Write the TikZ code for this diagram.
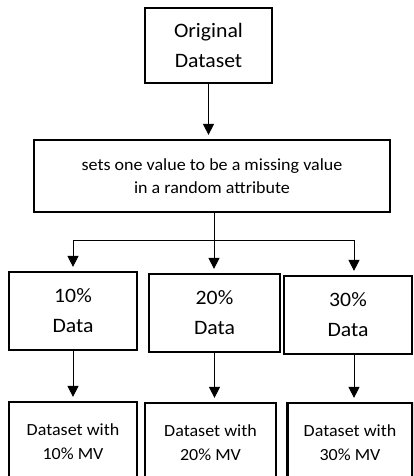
\documentclass[tikz,border=0pt]{standalone}
\usepackage{fontspec}
\setmainfont[FakeStretch=1.06]{Carlito}
\usetikzlibrary{arrows.meta, positioning}

\begin{document}
\begin{tikzpicture}[x=1pt, y=-1pt,
    box/.style={rectangle, draw, line width=2.2pt, inner sep=0pt, align=center},
    big/.style={box, minimum height=78pt, font=\fontsize{20.5}{30}\selectfont},
    mv/.style={box, minimum height=80pt, font=\fontsize{17}{24}\selectfont},
    arr/.style={-{Triangle[width=11pt,length=11pt]}, line width=1pt, shorten >=4pt}]
  \useasboundingbox (0,0) rectangle (413,476);
  \clip (0,0) rectangle (413,476);
  \node[big, minimum width=127pt, minimum height=75pt] (orig) at (208.5,45.5) {Original\\Dataset};
  \node[box, minimum width=356pt, minimum height=72pt, font=\fontsize{17}{23}\selectfont] (rule) at (212,176)
    {sets one value to be a missing value\\in a random attribute};
  \node[big, minimum width=128pt] (d10) at (73,311) {10\%\\Data};
  \node[big, minimum width=131pt] (d20) at (214.5,313) {20\%\\Data};
  \node[big, minimum width=128pt] (d30) at (348,315) {30\%\\Data};
  \node[mv, minimum width=128pt] (mv10) at (73,442) {Dataset with\\10\% MV};
  \node[mv, minimum width=131pt] (mv20) at (210.5,443) {Dataset with\\20\% MV};
  \node[mv, minimum width=125pt] (mv30) at (350,443) {Dataset with\\30\% MV};
  \coordinate (split) at (214,240);
  \draw[arr] (orig.south) -- (orig.south |- rule.north);
  \draw[line width=1pt] (split |- rule.south) -- (split);
  \draw[arr] (split) -| (d10.north);
  \draw[arr] (split) -- (split |- d20.north);
  \draw[arr] (split) -| ([xshift=6pt]d30.north);
  \draw[arr] (d10.south) -- (mv10.north);
  \draw[arr] (d20.south) -- (d20.south |- mv20.north);
  \draw[arr] ([xshift=6pt]d30.south) -- ([xshift=6pt]d30.south |- mv30.north);
\end{tikzpicture}
\end{document}
